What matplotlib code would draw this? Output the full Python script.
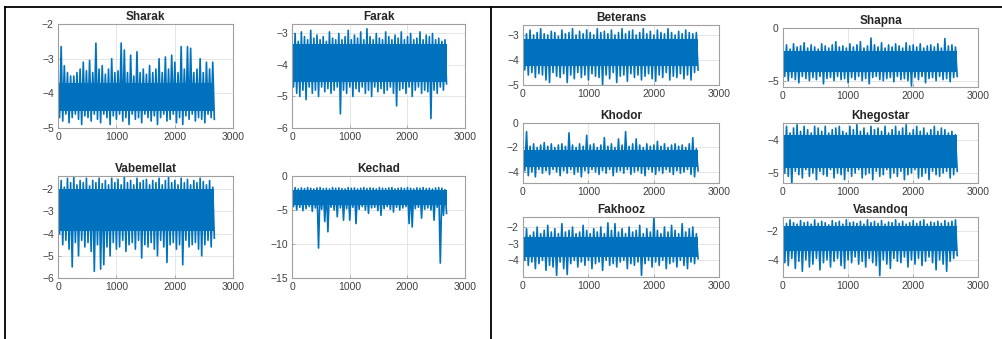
import numpy as np
import matplotlib
matplotlib.use("Agg")
from matplotlib import pyplot as plt
from matplotlib.lines import Line2D

plt.rcParams['font.family'] = ['Liberation Sans', 'DejaVu Sans']

N_SAMPLES = 2680
BLUE = '#0072BD'

# local peaks (hi) and troughs (lo) of each signal,
# plus the solid band in the middle (core)
sharak_hi = [-3.6, -2.65, -3.2, -3.4, -3.5, -3.5, -3.4, -3.3, -3.1, -3.35, -3.05, -3.4, -2.55, -3.3, -3.2, -3.45, -3.3,
             -3.0, -3.4, -3.35, -2.55, -2.75, -3.4, -2.9, -3.5, -2.8, -3.4, -3.3, -3.45, -3.2, -3.4, -3.3, -3.0, -3.4,
             -2.95, -3.3, -2.9, -3.1, -3.4, -2.65, -3.3, -2.65, -2.7, -3.4, -3.3, -3.0, -3.4, -3.1, -3.3, -3.1]
sharak_lo = [-4.7, -4.8, -4.6, -4.85, -4.7, -4.6, -4.75, -4.9, -4.65, -4.7, -4.8, -4.6, -4.75, -4.85, -4.6, -4.7, -4.9,
             -4.65, -4.75, -4.6, -4.8, -4.7, -4.9, -4.6, -4.75, -4.7, -4.85, -4.6, -4.7, -4.8, -4.65, -4.9, -4.7, -4.6,
             -4.8, -4.75, -4.6, -4.85, -4.7, -4.9, -4.65, -4.75, -4.6, -4.8, -4.7, -4.75, -4.85, -4.6, -4.7, -4.75]
sharak_core = (-4.5, -3.7)

farak_hi = [-3.2, -3.0, -3.25, -2.95, -3.1, -3.2, -2.9, -3.15, -3.05, -3.2, -3.1, -3.25, -2.95, -3.15, -3.2, -3.0, -3.2,
            -3.1, -2.9, -3.2, -3.05, -3.15, -2.95, -3.2, -2.85, -3.1, -3.2, -3.0, -3.15, -3.2, -2.95, -3.1, -3.2, -3.05,
            -3.15, -2.95, -3.2, -3.1, -3.0, -3.2, -3.15, -2.95, -3.2, -3.05, -3.1, -3.0, -3.2, -3.15, -3.25, -3.2]
farak_lo = [-4.7, -4.9, -5.0, -4.8, -5.1, -4.7, -4.9, -4.8, -5.0, -4.7, -4.85, -4.75, -4.9, -4.8, -4.7, -5.55, -4.8,
            -4.9, -4.7, -5.0, -4.75, -4.85, -4.7, -4.9, -4.8, -5.0, -4.7, -4.85, -4.75, -4.9, -4.8, -4.7, -4.9, -5.3,
            -4.8, -4.75, -4.9, -4.7, -5.0, -4.8, -4.7, -4.9, -4.8, -4.85, -5.7, -4.8, -4.9, -4.7, -4.8, -4.6]
farak_core = (-4.55, -3.35)

vabemellat_hi = [-1.8, -1.6, -1.9, -1.5, -1.7, -1.45, -1.8, -1.6, -1.7, -1.5, -1.85, -1.6, -1.7, -1.5, -1.75, -1.6,
                 -1.8, -1.5, -1.7, -1.55, -1.8, -1.45, -1.7, -1.6, -1.8, -1.5, -1.7, -1.6, -1.55, -1.8, -1.6, -1.7,
                 -1.5, -1.8, -1.6, -1.45, -1.7, -1.6, -1.8, -1.5, -1.7, -1.55, -1.8, -1.6, -1.7, -1.5, -1.65, -1.8,
                 -1.6, -1.9]
vabemellat_lo = [-4.0, -4.5, -4.3, -4.7, -5.5, -4.4, -5.0, -4.3, -4.6, -4.4, -4.8, -5.7, -4.5, -5.6, -5.4, -4.6, -5.0,
                 -4.4, -4.7, -4.6, -4.3, -4.8, -4.5, -4.4, -4.7, -4.3, -5.1, -4.5, -4.6, -4.4, -4.7, -5.0, -4.3, -4.6,
                 -5.3, -4.5, -4.4, -4.7, -4.5, -5.4, -4.3, -4.6, -4.5, -4.4, -4.7, -5.0, -4.5, -4.3, -4.6, -4.2]
vabemellat_core = (-3.9, -2.0)

kechad_hi = [-1.8, -1.7, -1.9, -1.75, -1.85, -1.7, -1.8, -1.9, -1.75, -1.7, -1.85, -1.8, -1.9, -1.7, -1.8, -1.75,
             -1.85, -1.9, -1.7, -1.8, -1.75, -1.9, -1.8, -1.7, -1.85, -1.75, -1.8, -1.9, -1.7, -1.8, -1.85, -1.75,
             -1.7, -1.9, -1.8, -1.75, -1.85, -1.7, -1.8, -1.9, -1.75, -1.8, -1.7, -1.85, -1.8, -1.9, -1.75, -1.7,
             -1.8, -2.0]
kechad_lo = [-4.5, -5.0, -4.6, -5.1, -4.8, -4.5, -5.2, -4.7, -10.6, -4.9, -6.7, -8.2, -4.6, -5.0, -6.0, -4.7, -6.5,
             -4.8, -6.5, -4.6, -7.0, -4.9, -4.5, -5.0, -5.5, -4.7, -4.6, -5.1, -5.8, -4.8, -4.5, -4.9, -5.3, -4.6,
             -5.0, -4.7, -4.5, -7.0, -7.5, -4.8, -4.6, -6.2, -4.9, -4.7, -5.0, -6.5, -4.6, -12.8, -5.8, -5.5]
kechad_core = (-4.2, -2.0)

beterans_hi = [-2.85, -2.95, -2.8, -3.0, -2.9, -2.75, -2.95, -3.0, -2.85, -2.9, -3.05, -2.8, -2.95, -2.9, -2.75, -3.0,
               -2.85, -2.95, -2.8, -2.9, -3.0, -2.75, -2.9, -2.85, -2.95, -2.8, -3.0, -2.9, -2.75, -2.95, -2.85, -2.8,
               -3.0, -2.9, -2.75, -2.95, -2.85, -3.0, -2.8, -2.9, -2.95, -2.75, -2.9, -3.0, -2.85, -2.95, -2.8, -2.9,
               -2.95, -2.9]
beterans_lo = [-4.4, -4.6, -4.5, -4.7, -4.55, -4.6, -4.8, -4.9, -4.5, -4.65, -4.7, -4.55, -4.9, -4.6, -4.75, -4.5,
               -4.7, -4.6, -4.8, -4.55, -4.65, -4.7, -5.0, -4.6, -4.75, -4.5, -4.9, -4.65, -4.6, -4.85, -4.55, -4.7,
               -4.6, -4.8, -4.65, -4.55, -4.75, -4.85, -4.6, -4.7, -4.5, -4.8, -4.65, -4.7, -4.55, -4.75, -4.6, -4.8,
               -4.5, -4.4]
beterans_core = (-4.25, -3.15)

shapna_hi = [-1.9, -1.6, -2.0, -1.5, -1.8, -1.7, -1.4, -1.9, -1.6, -1.8, -2.0, -1.5, -1.7, -1.9, -1.6, -1.3, -1.8,
             -1.7, -1.9, -1.5, -1.8, -1.6, -1.3, -1.9, -1.7, -0.95, -1.6, -1.8, -1.4, -1.9, -1.6, -1.8, -1.5, -1.7,
             -1.9, -1.4, -1.7, -1.6, -1.8, -1.5, -1.9, -1.7, -1.6, -1.8, -1.5, -1.9, -1.0, -1.7, -1.6, -1.8]
shapna_lo = [-4.6, -5.0, -4.7, -4.9, -5.2, -4.6, -4.8, -5.0, -4.7, -4.9, -4.6, -5.3, -4.8, -4.7, -5.0, -4.6, -4.9,
             -4.8, -5.2, -4.7, -4.9, -4.6, -5.0, -4.8, -5.3, -4.7, -4.6, -4.9, -5.0, -4.8, -4.7, -5.1, -4.6, -4.9,
             -4.8, -5.0, -5.5, -4.7, -4.9, -4.6, -5.2, -4.8, -4.7, -5.0, -4.6, -4.9, -4.8, -5.1, -4.7, -4.6]
shapna_core = (-4.2, -2.2)

khodor_hi = [-2.0, -0.7, -1.9, -1.7, -2.0, -1.8, -1.6, -1.9, -1.7, -2.0, -1.8, -1.7, -1.9, -0.8, -1.8, -2.0, -1.7,
             -1.9, -1.0, -1.8, -1.7, -2.0, -1.8, -1.2, -1.9, -1.7, -2.0, -1.3, -1.8, -0.7, -1.9, -1.7, -1.3, -1.8,
             -2.0, -1.7, -1.9, -1.8, -1.5, -1.9, -1.7, -2.0, -1.8, -1.7, -1.9, -1.8, -2.0, -1.7, -1.2, -2.1]
khodor_lo = [-3.9, -4.3, -4.0, -4.4, -3.8, -4.1, -3.9, -4.2, -3.8, -4.0, -4.3, -3.9, -4.1, -3.8, -4.2, -4.0, -4.4,
             -3.9, -4.1, -3.8, -4.0, -4.2, -3.9, -4.1, -3.8, -4.3, -4.0, -3.9, -4.1, -3.8, -4.2, -4.0, -3.9, -4.1,
             -4.3, -3.8, -4.0, -4.2, -3.9, -4.1, -3.8, -4.0, -4.2, -3.9, -4.1, -4.0, -3.8, -4.2, -4.4, -3.9]
khodor_core = (-3.6, -2.2)

khegostar_hi = [-3.7, -3.6, -3.8, -3.65, -3.55, -3.75, -3.6, -3.7, -3.8, -3.6, -3.65, -3.75, -3.6, -3.8, -3.7, -3.65,
                -3.6, -3.75, -3.8, -3.6, -3.7, -3.55, -3.75, -3.65, -3.8, -3.6, -3.7, -3.65, -3.75, -3.6, -3.8, -3.7,
                -3.6, -3.75, -3.65, -3.55, -3.8, -3.7, -3.6, -3.75, -3.65, -3.8, -3.7, -3.6, -3.75, -3.65, -3.7,
                -3.8, -3.75, -3.85]
khegostar_lo = [-5.0, -5.1, -5.35, -4.95, -5.05, -5.15, -4.9, -5.1, -5.0, -5.2, -4.95, -5.05, -5.1, -4.9, -5.15, -5.0,
                -5.05, -5.2, -4.95, -5.1, -5.0, -4.9, -5.15, -5.05, -5.0, -5.2, -4.95, -5.1, -5.05, -4.9, -5.15, -5.0,
                -5.1, -4.95, -5.2, -5.05, -5.0, -4.9, -5.15, -5.1, -5.0, -5.2, -4.95, -5.05, -5.1, -5.0, -4.95,
                -5.15, -5.05, -4.95]
khegostar_core = (-4.85, -3.85)

fakhooz_hi = [-2.4, -2.1, -2.5, -2.3, -2.0, -2.4, -2.2, -1.9, -2.3, -2.1, -2.4, -1.8, -2.3, -2.2, -2.0, -2.4, -2.3,
              -1.9, -2.2, -2.4, -2.1, -2.3, -2.0, -2.4, -1.75, -2.2, -1.8, -2.3, -2.1, -2.4, -2.0, -2.3, -2.2, -1.9,
              -2.4, -2.1, -2.3, -1.4, -2.2, -2.4, -2.0, -2.3, -1.9, -2.2, -2.4, -1.8, -2.3, -2.1, -2.0, -2.4]
fakhooz_lo = [-4.0, -4.3, -4.1, -4.5, -4.2, -4.0, -4.6, -4.3, -4.4, -4.9, -4.1, -4.5, -4.85, -4.2, -4.0, -4.4, -4.1,
              -4.3, -4.0, -4.5, -4.2, -4.1, -4.6, -4.0, -4.3, -4.2, -4.4, -4.1, -4.0, -4.5, -4.2, -4.3, -4.1, -4.9,
              -4.2, -4.0, -4.4, -4.1, -4.3, -4.0, -4.5, -4.2, -4.1, -4.4, -4.0, -4.3, -4.5, -4.1, -4.2, -3.9]
fakhooz_core = (-3.8, -2.6)

vasandoq_hi = [-1.3, -1.45, -1.2, -1.4, -1.5, -1.25, -1.4, -1.35, -1.5, -1.2, -1.45, -1.3, -1.4, -1.55, -1.25, -1.4,
               -1.3, -1.5, -1.2, -1.4, -1.35, -1.45, -1.3, -1.5, -1.2, -1.4, -1.3, -1.45, -1.25, -1.5, -1.35, -1.4,
               -1.2, -1.45, -1.3, -1.5, -1.4, -1.25, -1.45, -1.3, -1.2, -1.5, -1.35, -1.4, -1.3, -1.45, -1.25, -1.4,
               -1.3, -1.2]
vasandoq_lo = [-4.2, -4.4, -3.9, -4.6, -4.1, -4.8, -4.0, -4.5, -4.3, -3.9, -4.7, -4.2, -4.0, -4.5, -4.1, -3.9, -4.4,
               -4.6, -4.0, -4.2, -3.8, -4.3, -4.1, -4.5, -3.9, -4.2, -4.4, -5.1, -4.0, -4.3, -4.6, -3.9, -4.1, -4.2,
               -3.8, -4.5, -4.0, -4.3, -3.9, -4.4, -4.1, -3.8, -4.2, -4.7, -4.0, -4.3, -4.8, -4.1, -3.9, -3.7]
vasandoq_core = (-3.4, -1.6)

x_ticks = [0, 1000, 2000, 3000]

W, H = 1002, 339
fig = plt.figure(figsize=(W / 100, H / 100), dpi=100)
fig.patch.set_facecolor('white')


def px_axes(l, r, t, b):
    return fig.add_axes([l / W, 1 - b / H, (r - l) / W, (b - t) / H])


# (title, hi, lo, core, ylim, yticks, box in pixels: left, right, top, bottom)
panels = [
    ('Sharak', sharak_hi, sharak_lo, sharak_core, (-5, -2), [-5, -4, -3, -2], (58, 233, 24, 128)),
    ('Farak', farak_hi, farak_lo, farak_core, (-6, -2.7), [-6, -5, -4, -3], (292, 465, 24, 128)),
    ('Vabemellat', vabemellat_hi, vabemellat_lo, vabemellat_core, (-6, -1.4), [-6, -5, -4, -3, -2], (58, 233, 176, 278)),
    ('Kechad', kechad_hi, kechad_lo, kechad_core, (-15, 0), [-15, -10, -5, 0], (292, 465, 176, 278)),
    ('Beterans', beterans_hi, beterans_lo, beterans_core, (-5, -2.6), [-5, -4, -3], (523, 719, 25, 85)),
    ('Shapna', shapna_hi, shapna_lo, shapna_core, (-5.6, 0), [-5, 0], (783, 978, 28, 87)),
    ('Khodor', khodor_hi, khodor_lo, khodor_core, (-4.9, 0), [-4, -2, 0], (523, 719, 123, 183)),
    ('Khegostar', khegostar_hi, khegostar_lo, khegostar_core, (-5.3, -3.5), [-5, -4], (783, 978, 123, 183)),
    ('Fakhooz', fakhooz_hi, fakhooz_lo, fakhooz_core, (-5, -1.4), [-4, -3, -2], (523, 719, 217, 277)),
    ('Vasandoq', vasandoq_hi, vasandoq_lo, vasandoq_core, (-5.2, -1), [-4, -2], (783, 978, 217, 277)),
]

for title, hi, lo, core, ylim, yticks, box in panels:
    ax = px_axes(*box)
    n = len(hi)
    x = np.linspace(0, N_SAMPLES, 2 * n)
    y = np.empty(2 * n)
    y[0::2] = hi
    y[1::2] = lo
    ax.fill_between([0, N_SAMPLES], core[0], core[1], color=BLUE, lw=0)
    ax.plot(x, y, color=BLUE, lw=1.2)
    ax.set_xlim(0, 3000)
    ax.set_ylim(*ylim)
    ax.set_xticks(x_ticks)
    ax.set_yticks(yticks)
    ax.grid(True, color='#e0e0e0', lw=0.6)
    ax.set_axisbelow(True)
    for s in ax.spines.values():
        s.set_color('#a0a0a0')
        s.set_linewidth(0.8)
    ax.tick_params(direction='in', length=2.5, width=0.6, color='#a0a0a0',
                   labelsize=7.5, labelcolor='#404040', pad=3)
    ax.set_title(title, fontsize=8.5, fontweight='bold', color='#262626', pad=3)

# table-like borders around the two panels
for xs, ys in [((5, 1002), (7, 7)), ((5, 5), (7, 339)), ((491, 491), (7, 339))]:
    fig.add_artist(Line2D([v / W for v in xs], [1 - v / H for v in ys], color='black', lw=1.3))

fig.savefig('out.png', dpi=100, facecolor='white')
